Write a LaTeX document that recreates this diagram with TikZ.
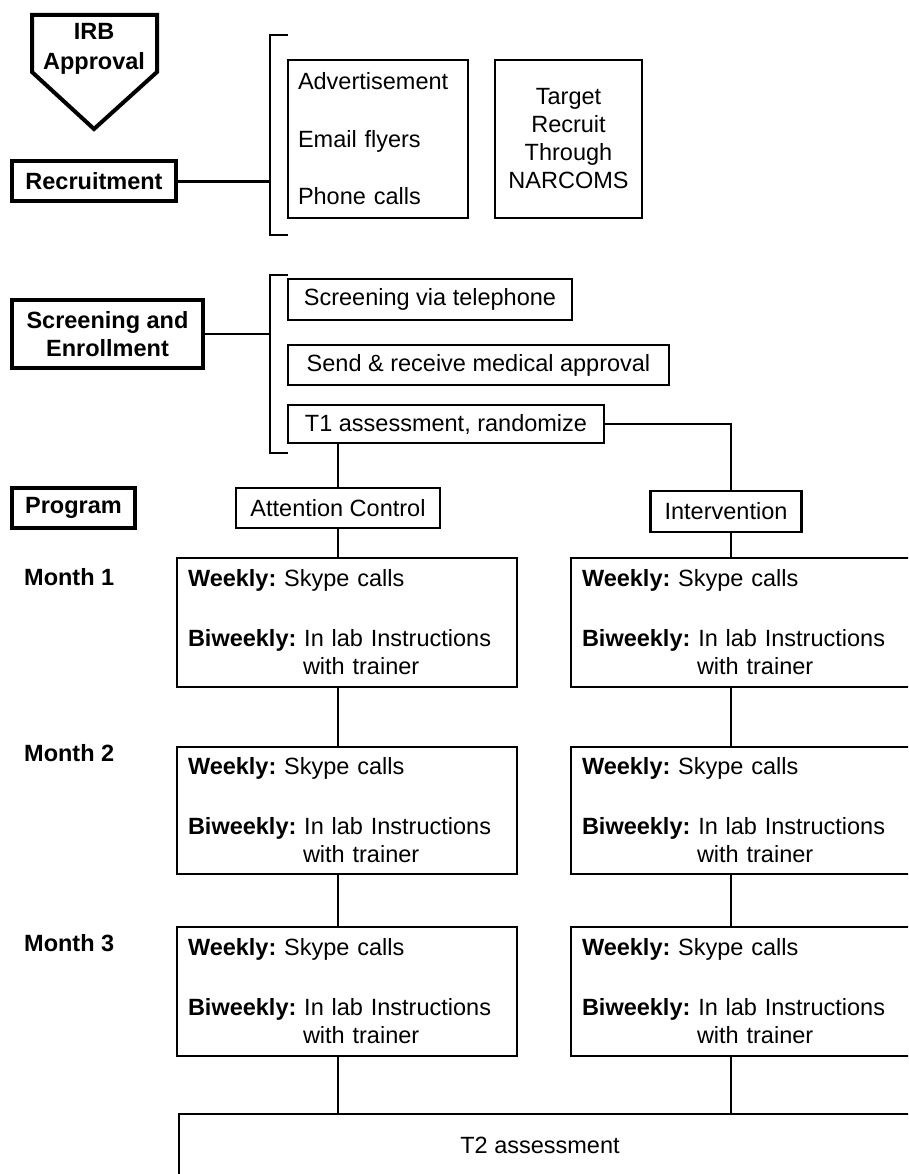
\documentclass[tikz,border=0pt]{standalone}
\usepackage{fontspec}
\setmainfont{Liberation Sans}
\usepackage{tikz}
\usetikzlibrary{positioning}
\newcommand\diagfont{\fontsize{23.5}{28}\selectfont\frenchspacing}
\tikzset{
  box/.style={draw, line width=2.4pt, inner sep=0pt},
  headbox/.style={draw, line width=4pt, inner sep=0pt, font=\diagfont\bfseries},
  monthbox/.style={box, minimum width=340pt, align=left, text width=318pt, inner xsep=11pt},
  conn/.style={line width=2.4pt},
}

\begin{document}
\begin{tikzpicture}[x=1pt, y=-1pt, font=\diagfont]
  \fill[white] (0,0) rectangle (908,1174);
  \clip (0,0) rectangle (908,1174);

  % recruitment
  \draw[line width=4pt] (32,15) -- (157,15) -- (157,72) -- (94,129) -- (32,72) -- cycle;
  \node[font=\diagfont\bfseries, align=center] (irb) at (94,49) {IRB\\[2pt]Approval};
  \node[headbox, minimum width=164pt, minimum height=40pt] (recruit) at (94,181.5) {Recruitment};
  \draw[conn] (288,35) -- (270,35) -- (270,235) -- (288,235);
  \coordinate (brk1) at (270,181.5);
  \node[box, minimum height=158pt, text width=160pt, inner xsep=10pt, align=left] (adv) at (378,139)
    {Advertisement\\[30pt]Email flyers\\[29pt]Phone calls};
  \node[box, minimum width=147pt, minimum height=158pt, align=center] (tgt) at (568.5,139)
    {Target\\Recruit\\Through\\NARCOMS};
  \draw[conn] (recruit) -- (brk1);

  % screening
  \node[headbox, minimum width=191pt, minimum height=68pt, align=center] (screen) at (107.5,334)
    {Screening and\\Enrollment};
  \draw[conn] (288,275) -- (270,275) -- (270,453) -- (288,453);
  \coordinate (brk2) at (270,334);
  \draw[conn] (screen) -- (brk2);
  \node[box, minimum width=284pt, minimum height=41pt] (tel) at (430,299.5) {Screening via telephone};
  \node[box, minimum width=381pt, minimum height=40pt] (med) at (478.5,365) {Send \& receive medical approval};
  \node[box, minimum width=316pt, minimum height=38pt] (t1) at (446,424) {T1 assessment, randomize};

  % program
  \node[headbox, minimum width=123pt, minimum height=40pt] (prog) at (73.5,508) {Program};
  \node[box, minimum width=204pt, minimum height=40pt] (ac) at (338,508) {Attention Control};
  \node[box, minimum width=151pt, minimum height=41pt] (iv) at (726,511.5) {Intervention};
  \coordinate (ivx) at (731,511.5);
  \draw[conn] (t1.south -| ac.north) -- (ac.north);
  \draw[conn] (t1.east) -| (iv.north -| ivx);

  \foreach \i/\yc/\h/\yl in {1/622.5/129/577, 2/810.5/127/753, 3/991.5/129/943} {
    \node[font=\diagfont\bfseries, anchor=west, inner sep=0pt] (mon\i) at (24,\yl) {Month \i};
    \node[monthbox, minimum height=\h pt] (la\i) at (347,\yc)
      {\textbf{Weekly:} Skype calls\\[32pt]\textbf{Biweekly:} In lab Instructions\\\hspace*{115pt}with trainer};
    \node[monthbox, minimum height=\h pt] (rb\i) at (741,\yc)
      {\textbf{Weekly:} Skype calls\\[32pt]\textbf{Biweekly:} In lab Instructions\\\hspace*{115pt}with trainer};
  }

  \node[box, minimum width=752pt, minimum height=64pt, anchor=north west] (t2) at (178,1113) {};
  \node (t2txt) at (540,1145) {T2 assessment};

  \draw[conn] (ac.south) -- (ac.south |- la1.north);
  \draw[conn] (iv.south -| ivx) -- (rb1.north -| ivx);
  \draw[conn] (la1.south -| ac.south) -- (la2.north -| ac.south);
  \draw[conn] (la2.south -| ac.south) -- (la3.north -| ac.south);
  \draw[conn] (la3.south -| ac.south) -- (t2.north -| ac.south);
  \draw[conn] (rb1.south -| ivx) -- (rb2.north -| ivx);
  \draw[conn] (rb2.south -| ivx) -- (rb3.north -| ivx);
  \draw[conn] (rb3.south -| ivx) -- (t2.north -| ivx);
\end{tikzpicture}
\end{document}
